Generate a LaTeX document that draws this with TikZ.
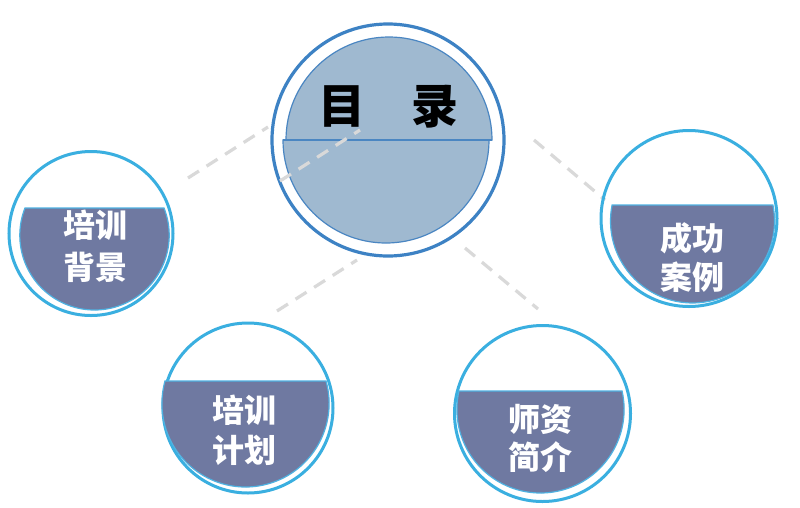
\documentclass[tikz,border=0pt]{standalone}
\usepackage{fontspec}
\newfontfamily\cjk{Noto Sans CJK SC}
\definecolor{mainring}{HTML}{3D82C4}
\definecolor{discfill}{HTML}{9FB9D0}
\definecolor{discline}{HTML}{4A86C2}
\definecolor{satring}{HTML}{3AAFE0}
\definecolor{satfill}{HTML}{6F79A1}
\definecolor{satline}{HTML}{4FB2E2}
\definecolor{dashgray}{HTML}{D9D9D9}
\tikzset{
  ring/.style={circle, draw=satring, line width=3pt, inner sep=0pt},
  segfill/.style={fill=satfill, draw=satline, line width=1.2pt},
  dashlink/.style={draw=dashgray, line width=3.2pt, dash pattern=on 13pt off 9pt},
  sattext/.style={text=white, align=center, inner sep=0pt,
    font=\cjk\bfseries\fontsize{32}{40}\selectfont},
  titletext/.style={text=black, inner sep=0pt,
    font=\cjk\bfseries\fontsize{47}{50}\selectfont},
}
\newcommand\mysegment[4]{% cx, cy, R, chordY
  \pgfmathsetmacro\segang{asin((#4-#2)/#3)}%
  \pgfmathsetmacro\segx{#1+#3*cos(\segang)}%
  \path[segfill] (\segx,#4) arc[start angle=\segang, end angle={180-\segang}, radius=#3] -- cycle;
}
\begin{document}
\begin{tikzpicture}[x=1pt,y=-1pt]
\useasboundingbox (0,0) rectangle (800,507);
\fill[white] (0,0) rectangle (800,507);
% dashed connectors (behind)
\coordinate (d1a) at (188,178); \coordinate (d1b) at (268,127);
\coordinate (d3a) at (277,311); \coordinate (d3b) at (357,260);
\coordinate (d4a) at (534,140); \coordinate (d4b) at (605,200);
\coordinate (d5a) at (465,248); \coordinate (d5b) at (538,309);
\coordinate (d2a) at (280,181); \coordinate (d2b) at (360,130);
\draw[dashlink] (d1a) -- (d1b);
\draw[dashlink] (d3a) -- (d3b);
\draw[dashlink] (d4a) -- (d4b);
\draw[dashlink] (d5a) -- (d5b);
% central circle
\node[circle, draw=mainring, line width=3.2pt, minimum size=232pt, inner sep=0pt] (main) at (388,140) {};
\path[fill=discfill, draw=discline, line width=1.2pt] (286,140) arc[start angle=180, end angle=360, radius=103] -- cycle;
\path[fill=discfill, draw=discline, line width=1.2pt] (489,140) arc[start angle=0, end angle=180, radius=103] -- cycle;
\draw[discline, line width=2.2pt] (283,140) -- (492,140);
\node[titletext] (title) at (388.5,107) {目\hspace{46pt}录};
\draw[dashlink] (d2a) -- (d2b);
% satellites
\node[ring, minimum size=164pt] (s1) at (91,233.5) {};
\mysegment{94.5}{235.3}{74.7}{208}
\node[sattext, font=\cjk\bfseries\fontsize{32}{42}\selectfont] (t1) at (95,246) {培训\\背景};

\node[ring, minimum size=176pt] (s2) at (689,218.5) {};
\mysegment{692.5}{221}{82}{205}
\node[sattext, font=\cjk\bfseries\fontsize{32}{39}\selectfont] (t2) at (692,257.5) {成功\\案例};

\node[ring, minimum size=170pt] (s3) at (248,408) {};
\mysegment{245.5}{403.4}{83.6}{381}
\node[sattext, font=\cjk\bfseries\fontsize{32}{40}\selectfont] (t3) at (244,430) {培训\\计划};

\node[ring, minimum size=176pt] (s4) at (542.5,413.5) {};
\mysegment{540.5}{409.4}{83.6}{391}
\node[sattext, font=\cjk\bfseries\fontsize{32}{38}\selectfont] (t4) at (540,438) {师资\\简介};
\end{tikzpicture}
\end{document}
